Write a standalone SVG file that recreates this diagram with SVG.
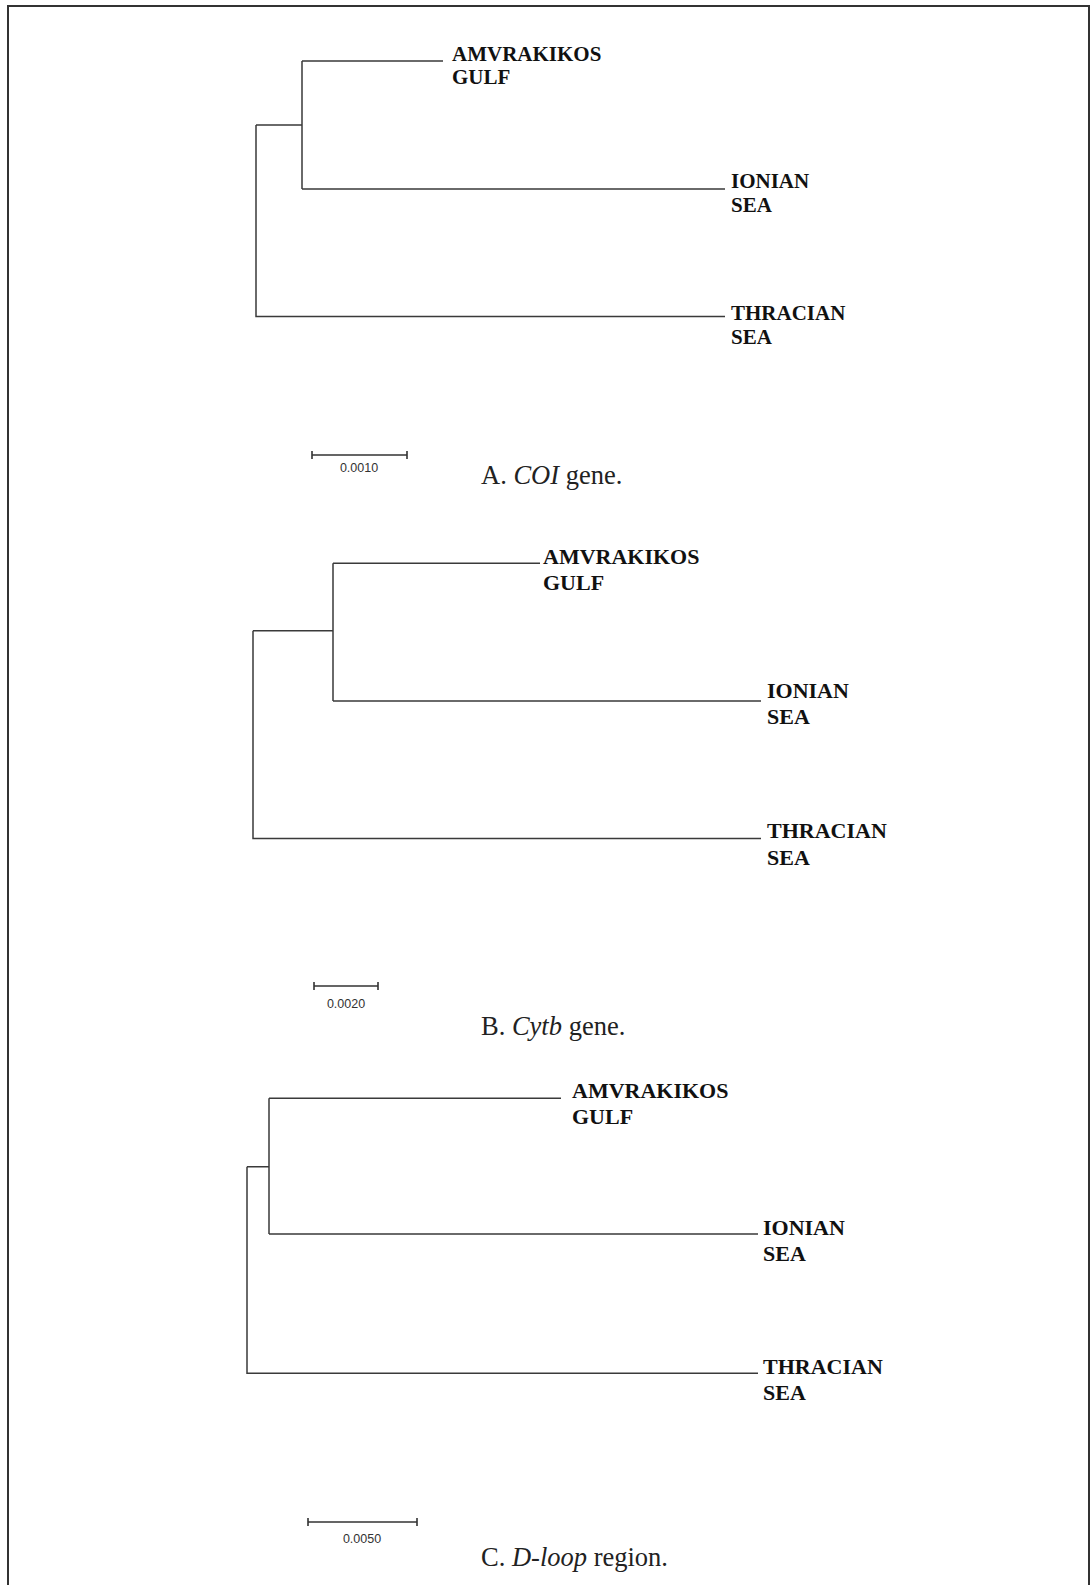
<svg xmlns="http://www.w3.org/2000/svg" width="1091" height="1585" viewBox="0 0 1091 1585">
<style>
.br{fill:none;stroke:#3a3a3a;stroke-width:1.5}
.lab{font-family:"Liberation Serif","Times New Roman",serif;font-weight:bold;fill:#111}
.la{font-size:21px}
.lb{font-size:22px}
.sc{font-family:"Liberation Sans",Arial,sans-serif;font-size:12.5px;fill:#333;text-anchor:middle}
.cap{font-family:"Liberation Serif","Times New Roman",serif;font-size:26.5px;fill:#222}
.bar{fill:none;stroke:#333;stroke-width:1.6}
</style>
<rect x="0" y="0" width="1091" height="1585" fill="#fff"/>
<path d="M8,1595 V6 H1089 V1595" fill="none" stroke="#333" stroke-width="2"/>
<g id="connectors">
<path class="br" d="M256,125 V316.5 H725 M256,125 H302 M302,61 V189 M302,61 H443 M302,189 H725"/>
<path class="br" d="M253,630.7 V838.5 H761 M253,630.7 H333 M333,563.3 V701 M333,563.3 H540 M333,701 H761"/>
<path class="br" d="M247,1166.7 V1373.3 H758 M247,1166.7 H269 M269,1098.3 V1234 M269,1098.3 H561 M269,1234 H758"/>
</g>
<g id="treeA">
<g id="A-amvrakikos"><text class="lab la" x="452" y="61">AMVRAKIKOS</text><text class="lab la" x="452" y="84">GULF</text></g>
<g id="A-ionian"><text class="lab la" x="731" y="188">IONIAN</text><text class="lab la" x="731" y="212">SEA</text></g>
<g id="A-thracian"><text class="lab la" x="731" y="320">THRACIAN</text><text class="lab la" x="731" y="344">SEA</text></g>
<g id="A-scale"><path class="bar" d="M312,455 H407 M312,451 V459 M407,451 V459"/><text class="sc" x="359" y="472">0.0010</text></g>
<text class="cap" x="481" y="484">A. <tspan font-style="italic">COI</tspan> gene.</text>
</g>
<g id="treeB">
<g id="B-amvrakikos"><text class="lab lb" x="543" y="564">AMVRAKIKOS</text><text class="lab lb" x="543" y="590">GULF</text></g>
<g id="B-ionian"><text class="lab lb" x="767" y="698">IONIAN</text><text class="lab lb" x="767" y="724">SEA</text></g>
<g id="B-thracian"><text class="lab lb" x="767" y="838">THRACIAN</text><text class="lab lb" x="767" y="865">SEA</text></g>
<g id="B-scale"><path class="bar" d="M314,986 H378 M314,982 V990 M378,982 V990"/><text class="sc" x="346" y="1008">0.0020</text></g>
<text class="cap" x="481" y="1035">B. <tspan font-style="italic">Cytb</tspan> gene.</text>
</g>
<g id="treeC">
<g id="C-amvrakikos"><text class="lab lb" x="572" y="1098">AMVRAKIKOS</text><text class="lab lb" x="572" y="1124">GULF</text></g>
<g id="C-ionian"><text class="lab lb" x="763" y="1235">IONIAN</text><text class="lab lb" x="763" y="1261">SEA</text></g>
<g id="C-thracian"><text class="lab lb" x="763" y="1374">THRACIAN</text><text class="lab lb" x="763" y="1400">SEA</text></g>
<g id="C-scale"><path class="bar" d="M308,1522 H417 M308,1518 V1526 M417,1518 V1526"/><text class="sc" x="362" y="1543">0.0050</text></g>
<text class="cap" x="481" y="1566">C. <tspan font-style="italic">D-loop</tspan> region.</text>
</g>
</svg>
